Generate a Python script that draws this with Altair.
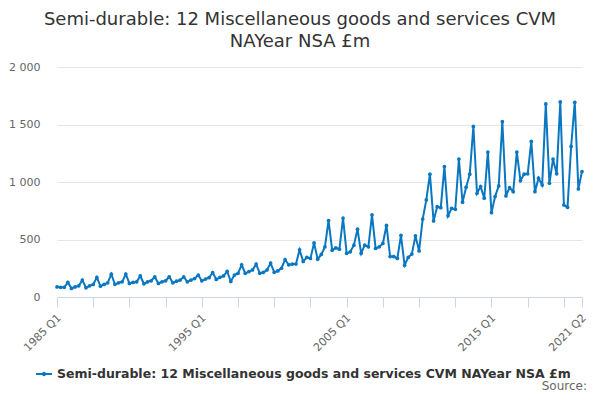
import altair as alt
import pandas as pd

# ---- data ----
years = list(range(1985, 2022))
quarters = [f"{y} Q{q}" for y in years for q in range(1, 5)][:146]

values_1985_1996 = [
    88, 84, 84, 127,
    75, 88, 97, 147,
    80, 97, 109, 170,
    94, 109, 123, 198,
    110, 123, 132, 200,
    118, 127, 132, 183,
    115, 132, 141, 176,
    118, 132, 141, 176,
    123, 138, 147, 175,
    132, 147, 160, 190,
    141, 156, 168, 212,
    153, 171, 183, 222,
]
values_1997_2008 = [
    135, 191, 206, 280,
    206, 221, 235, 286,
    206, 215, 235, 295,
    215, 227, 250, 326,
    280, 286, 286, 410,
    309, 344, 335, 470,
    329, 370, 436, 665,
    407, 427, 416, 686,
    380, 393, 451, 590,
    380, 451, 436, 715,
    422, 436, 466, 622,
    352, 352, 335, 536,
]
values_2009_2021 = [
    277, 344, 373, 532,
    401, 678, 844, 1068,
    661, 785, 777, 1134,
    707, 771, 763, 1199,
    824, 955, 1068, 1483,
    902, 960, 859, 1260,
    733, 873, 966, 1524,
    879, 951, 916, 1260,
    1012, 1068, 1071, 1353,
    916, 1033, 975, 1679,
    990, 1199, 1071, 1696,
    800, 780, 1309, 1693,
    940, 1091,
]
values = values_1985_1996 + values_1997_2008 + values_2009_2021

series_name = "Semi-durable: 12 Miscellaneous goods and services CVM NAYear NSA £m"
title_lines = ["Semi-durable: 12 Miscellaneous goods and services CVM", "NAYear NSA £m"]
labelled_ticks = ["1985 Q1", "1995 Q1", "2005 Q1", "2015 Q1", "2021 Q2"]
tick_positions = quarters[::10] + [quarters[-1]]
y_ticks = [0, 500, 1000, 1500, 2000]

df = pd.DataFrame({"quarter": quarters, "value": values, "series": series_name})

BLUE = "#0a77c0"
FONT = "DejaVu Sans"

labelled_js = "[" + ",".join(f"'{t}'" for t in labelled_ticks) + "]"

x_enc = alt.X(
    "quarter:O",
    sort=quarters,
    scale=alt.Scale(type="point", padding=0, domain=quarters),
    axis=alt.Axis(
        title=None,
        values=tick_positions,
        labelExpr=f"indexof({labelled_js}, datum.value) >= 0 ? datum.value : ''",
        labelAngle=-45,
        labelAlign="right",
        labelBaseline="middle",
        labelFont=FONT,
        labelFontSize=11,
        labelColor="#666666",
        labelPadding=9,
        labelOffset=2,
        tickSize=10,
        tickColor="#ccd6eb",
        domainColor="#ccd6eb",
        grid=False,
        labelOverlap=False,
    ),
)
y_enc = alt.Y(
    "value:Q",
    scale=alt.Scale(domain=[0, 2000], nice=False),
    axis=alt.Axis(
        title=None,
        values=y_ticks,
        labelExpr="replace(format(datum.value, ','), ',', ' ')",
        labelFont=FONT,
        labelFontSize=11,
        labelColor="#666666",
        labelPadding=17,
        ticks=False,
        domain=False,
        grid=True,
        gridColor="#e6e6e6",
    ),
)

line = alt.Chart(df).mark_line(strokeWidth=2).encode(
    x=x_enc,
    y=y_enc,
    color=alt.Color(
        "series:N",
        scale=alt.Scale(range=[BLUE]),
        legend=alt.Legend(
            title=None,
            orient="none",
            legendX=-22,
            legendY=298,
            labelFont=FONT,
            labelFontSize=12.5,
            labelFontWeight="bold",
            labelColor="#333333",
            labelLimit=1000,
            symbolType="M-1,0H1M0,-0.15A0.15,0.15,0,1,1,0,0.15A0.15,0.15,0,1,1,0,-0.15Z",
            symbolSize=256,
            symbolStrokeWidth=2,
            symbolStrokeColor=BLUE,
        ),
    ),
)

points = alt.Chart(df).mark_circle(size=14, opacity=1, color=BLUE).encode(
    x=alt.X("quarter:O", sort=quarters),
    y="value:Q",
)

source = alt.Chart(df).mark_text(
    text="Source:", align="right", baseline="middle", font=FONT, fontSize=12, color="#666666"
).encode(x=alt.value(530), y=alt.value(319))

chart = (
    alt.layer(line, points, source.transform_filter("datum.quarter == '1985 Q1'"))
    .properties(
        width=525,
        height=230,
        padding={"left": 49, "top": 59, "right": 10, "bottom": 95},
        autosize=alt.AutoSizeParams(type="none"),
        title=alt.TitleParams(
            text=title_lines,
            font=FONT,
            fontSize=18,
            fontWeight="normal",
            color="#333333",
            anchor="middle",
            dx=-19.5,
            offset=10,
            lineHeight=22,
        ),
        background="white",
    )
    .configure_view(stroke=None)
)

chart.save("out.html", embed_options={"renderer": "svg", "actions": False})
